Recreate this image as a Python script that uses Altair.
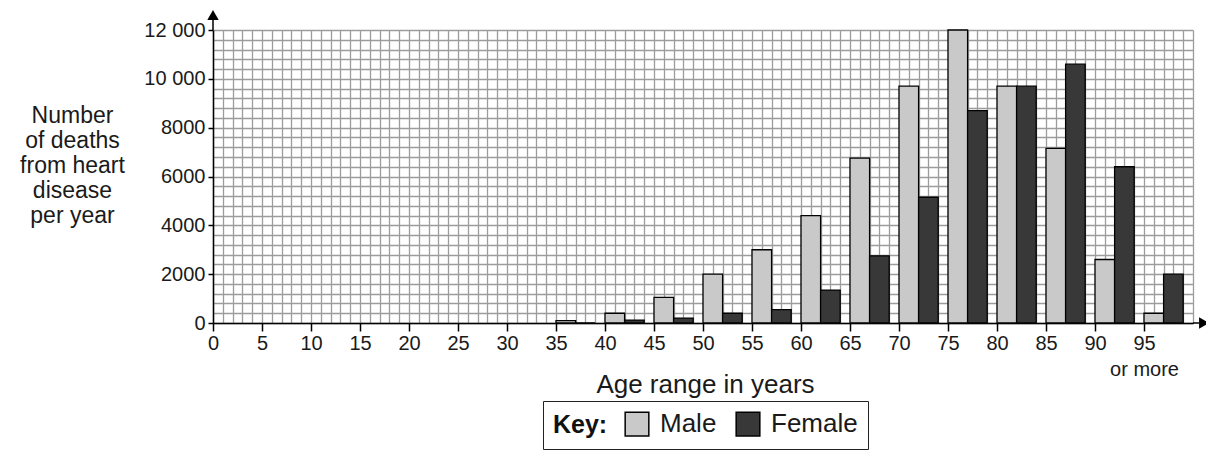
import altair as alt
import pandas as pd

# ---- data ----
ages = [35, 40, 45, 50, 55, 60, 65, 70, 75, 80, 85, 90, 95]
male = [100, 400, 1050, 2000, 3000, 4400, 6750, 9700, 12000, 9700, 7150, 2600, 400]
female = [0, 120, 200, 400, 550, 1350, 2750, 5150, 8700, 9700, 10600, 6400, 2000]
sexes = ["Male", "Female"]
colors = ["#c9c9c9", "#383838"]
grid_x = list(range(0, 101, 1))        # minor grid every year, labels every 5
grid_y = list(range(0, 12001, 400))    # minor grid every 400, labels every 2000
y_title = ["Number", "of deaths", "from heart", "disease", "per year"]
x_title = "Age range in years"

FONT = "Liberation Sans"
W, H = 980, 293

rows = []
for a, m, f in zip(ages, male, female):
    rows.append({"age": a, "sex": "Male", "deaths": m})
    rows.append({"age": a, "sex": "Female", "deaths": f})
df = pd.DataFrame(rows)

xs = alt.Scale(domain=[0, 100], nice=False, zero=False)
ys = alt.Scale(domain=[0, 12000], nice=False)

x_tick_op = {"condition": {"test": "datum.value % 5 === 0 && datum.value < 100", "value": 1}, "value": 0}
y_tick_op = {"condition": {"test": "datum.value % 2000 === 0", "value": 1}, "value": 0}

bars = alt.Chart(df).transform_calculate(
    x0="datum.age + (datum.sex == 'Male' ? 0 : 2)",
    x1="datum.age + (datum.sex == 'Male' ? 2 : 4)",
    base="0",
).mark_bar(stroke="black", strokeWidth=1.3, opacity=1).encode(
    x=alt.X(
        "x0:Q",
        scale=xs,
        axis=alt.Axis(
            values=grid_x,
            labelExpr="datum.value == 95 ? ['95', 'or more'] : (datum.value % 5 === 0 && datum.value < 100 ? format(datum.value, 'd') : '')",
            labelLineHeight=26,
            title=x_title,
            titleFontSize=26,
            titleFontWeight="normal",
            titleColor="#1a1a1a",
            titleX=492,
            titleY=69,
            titleAlign="center",
            titleBaseline="alphabetic",
            labelFontSize=20,
            labelColor="#1a1a1a",
            labelPadding=2,
            labelFlush=False,
            labelOverlap=False,
            labelBaseline="top",
            tickSize=8,
            tickColor="black",
            tickWidth=1.5,
            tickOpacity=x_tick_op,
            domainColor="black",
            domainWidth=1.5,
            grid=True,
            gridColor="#9c9c9c",
            gridWidth=1.3,
        ),
    ),
    x2="x1:Q",
    y=alt.Y(
        "deaths:Q",
        scale=ys,
        stack=None,
        axis=alt.Axis(
            values=grid_y,
            labelExpr="datum.value % 2000 !== 0 ? '' : (datum.value >= 10000 ? format(datum.value / 1000, 'd') + ' 000' : format(datum.value, 'd'))",
            title=y_title,
            titleAngle=0,
            titleX=-141,
            titleY=74,
            titleAlign="center",
            titleBaseline="top",
            titleLineHeight=25,
            titleFontSize=23,
            titleFontWeight="normal",
            titleColor="#1a1a1a",
            labelFontSize=20,
            labelColor="#1a1a1a",
            labelPadding=3,
            labelOverlap=False,
            tickSize=5,
            tickColor="black",
            tickWidth=1.5,
            tickOpacity=y_tick_op,
            domainColor="black",
            domainWidth=1.5,
            grid=True,
            gridColor="#9c9c9c",
            gridWidth=1.3,
        ),
    ),
    y2="base:Q",
    color=alt.Color(
        "sex:N",
        scale=alt.Scale(domain=sexes, range=colors),
        legend=alt.Legend(
            orient="none",
            legendX=330,
            legendY=371,
            direction="horizontal",
            title="Key:",
            titleOrient="left",
            titleFontSize=25,
            titleFontWeight="bold",
            titleColor="#111111",
            titlePadding=16,
            labelFontSize=26,
            labelColor="#1a1a1a",
            labelOffset=10,
            symbolType="square",
            symbolSize=560,
            symbolStrokeColor="black",
            symbolStrokeWidth=1.5,
            symbolOpacity=1,
            columnPadding=16,
            strokeColor="#222222",
            fillColor="white",
            padding=10,
        ),
    ),
)

arrow_df = pd.DataFrame({"k": [0]})
y_arrow_line = alt.Chart(arrow_df).mark_rule(color="black", strokeWidth=1.5).encode(
    x=alt.value(0), y=alt.value(-10), y2=alt.value(0)
)
y_arrow_head = alt.Chart(arrow_df).mark_point(
    shape="triangle-up", filled=True, color="black", size=130, opacity=1
).encode(x=alt.value(0), y=alt.value(-15))
x_arrow_line = alt.Chart(arrow_df).mark_rule(color="black", strokeWidth=1.5).encode(
    x=alt.value(W), x2=alt.value(W + 6), y=alt.value(H)
)
x_arrow_head = alt.Chart(arrow_df).mark_point(
    shape="triangle-right", filled=True, color="black", size=130, opacity=1
).encode(x=alt.value(W + 11), y=alt.value(H))

chart = alt.layer(
    bars, y_arrow_line, y_arrow_head, x_arrow_line, x_arrow_head
).properties(
    width=W,
    height=H,
    autosize=alt.AutoSizeParams(type="none"),
    padding={"left": 205, "top": 22, "right": 13, "bottom": 127},
    background="white",
).configure(font=FONT).configure_view(stroke="transparent")

chart.save("out.html", embed_options={"renderer": "svg", "actions": False})
